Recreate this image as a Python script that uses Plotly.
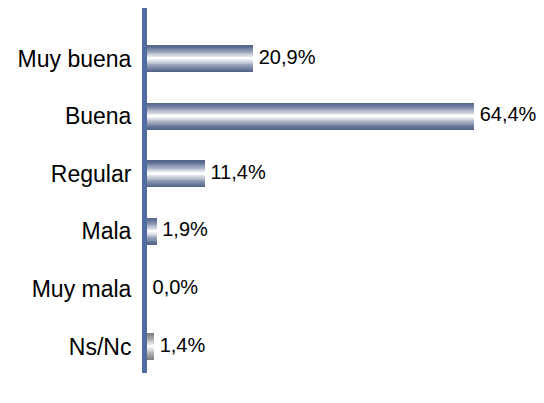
import plotly.graph_objects as go

categories = ["Muy buena", "Buena", "Regular", "Mala", "Muy mala", "Ns/Nc"]
values = [20.9, 64.4, 11.4, 1.9, 0.0, 1.4]
labels = ["20,9%", "64,4%", "11,4%", "1,9%", "0,0%", "1,4%"]

def lerp(c1, c2, t):
    return "rgb(%d,%d,%d)" % tuple(round(a + (b - a) * t) for a, b in zip(c1, c2))

blue_edge = (84, 101, 140)
gray_edge = (128, 128, 128)
white = (255, 255, 255)

fig = go.Figure()
N = 16
W = 0.47
for k in range(N):
    t = k / (N - 1)
    w = W * (1 - k / N)
    tt = t ** 1.3
    cols = [lerp(gray_edge if c == "Ns/Nc" else blue_edge, white, tt) for c in categories]
    fig.add_trace(go.Bar(
        y=categories, x=values, orientation="h", width=w,
        marker=dict(color=cols, line=dict(width=0)),
        hoverinfo="skip", showlegend=False,
    ))

fig.add_trace(go.Scatter(
    y=categories, x=values, mode="text", text=[" " + l for l in labels],
    textposition="middle right", textfont=dict(size=20, color="#000000",
    family="Liberation Sans, Arial, sans-serif"),
    showlegend=False, hoverinfo="skip", cliponaxis=False,
))

fig.update_layout(
    width=544, height=403, barmode="overlay", bargap=0,
    margin=dict(l=139, r=24, t=0, b=38),
    paper_bgcolor="white", plot_bgcolor="white",
    font=dict(family="Liberation Sans, Arial, sans-serif", size=23, color="#000000"),
    xaxis=dict(range=[0, 75], visible=False, showgrid=False, zeroline=False, fixedrange=True),
    yaxis=dict(categoryorder="array", categoryarray=categories,
               range=[5.46, -0.877], showline=True, linewidth=5, linecolor="#4f6ca3",
               showgrid=False, zeroline=False, ticks="", ticklabelstandoff=6,
               tickfont=dict(size=23)),
)

fig.write_html("out.html")
